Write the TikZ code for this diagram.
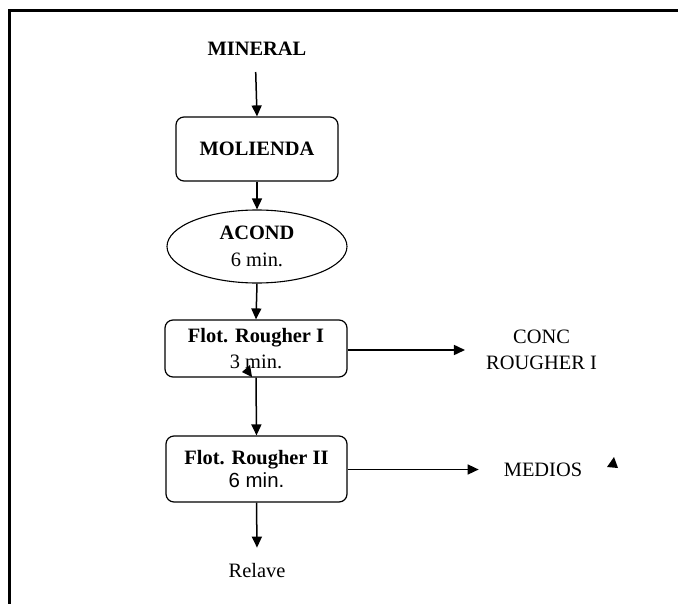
\documentclass[tikz,border=0pt]{standalone}
\usepackage{fontspec}
\setmainfont{Liberation Serif}
\newfontfamily\arialfont{Liberation Sans}
\usetikzlibrary{arrows.meta,shapes.geometric}

\tikzset{
  txt/.style={font=\fontsize{20.5}{26}\selectfont, inner sep=0pt, align=center},
  procbox/.style={txt, draw, line width=1.2bp, rounded corners=8bp},
  condbox/.style={txt, draw, line width=1.1bp, ellipse, inner sep=0pt},
  flow/.style={line width=1.5bp, -{Triangle[length=11bp,width=10bp]}},
}

\begin{document}
\begin{tikzpicture}[x=1bp, y=-1bp]
  \useasboundingbox (0,0) rectangle (678,604);

  % page frame (left and top edges)
  \draw[line width=3.5bp, line join=miter] (9.3,604) -- (9.3,10.5) -- (678,10.5);

  % process chain
  \node[txt, font=\fontsize{20.5}{26}\selectfont\bfseries] (mineral) at (257,49) {MINERAL};
  \coordinate (mineralOut) at (255.7,72);

  \node[procbox, minimum width=162bp, minimum height=64bp, font=\fontsize{20.5}{26}\selectfont\bfseries]
    (molienda) at (257,149) {MOLIENDA};

  \node[condbox, minimum width=180bp, minimum height=73bp] (acond) at (257,246.5)
    {\textbf{ACOND}\\[1pt]6 min.};

  \node[procbox, minimum width=182bp, minimum height=57bp] (flot1) at (256,348.5)
    {\textbf{Flot. Rougher I}\\3 min.};

  \node[procbox, minimum width=181bp, minimum height=66bp,
        font=\fontsize{20.5}{23}\selectfont] (flot2) at (256.5,469)
    {\textbf{Flot. Rougher II}\\{\arialfont 6 min.}};

  \node[txt, anchor=base, inner ysep=15bp] (relave) at (257,577) {Relave};

  % products
  \node[txt, inner xsep=21bp] (conc) at (541.5,350) {CONC\\ROUGHER I};
  \node[txt, inner xsep=25bp] (medios) at (543,469.5) {MEDIOS};

  % connectors
  \draw[flow] (mineralOut) -- (molienda.north);
  \draw[flow] (molienda.south) -- (acond.north);
  \draw[flow] (acond.south) -- (flot1.north);
  \draw[flow] (flot1.south) -- (flot2.north);
  \draw[flow] (flot2.south) -- (relave.north);
  \draw[flow] (flot1.east |- conc.west) -- (conc.west);
  \draw[flow] (flot2.east |- medios.west) -- (medios.west);

  % loose arrowheads
  \fill (242,372) -- (250,365) -- (252,377) -- cycle;
  \fill (614,457) -- (607,467) -- (618,468) -- cycle;
\end{tikzpicture}
\end{document}
